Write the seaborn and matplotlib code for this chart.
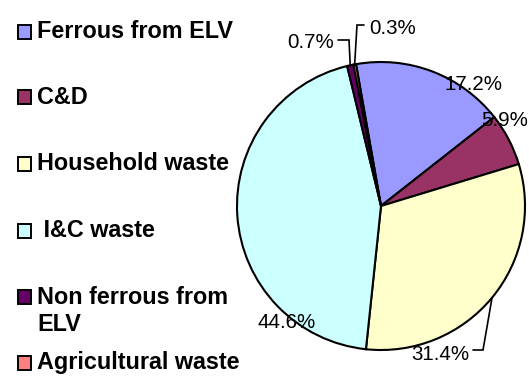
import numpy as np
import matplotlib
matplotlib.use("Agg")
import matplotlib.pyplot as plt
from matplotlib.patches import Rectangle
import seaborn as sns

# Waste stream shares (%)
categories = ["Ferrous from ELV", "C&D", "Household waste", " I&C waste",
              "Non ferrous from\nELV", "Agricultural waste"]
shares = [17.2, 5.9, 31.4, 44.6, 0.7, 0.3]
colors = ["#9999FF", "#993366", "#FFFFCC", "#CCFFFF", "#660066", "#FF8080"]

sns.set_theme(style="white")
plt.rcParams["font.family"] = ["Liberation Sans", "DejaVu Sans"]

W, H = 529, 377
fig = plt.figure(figsize=(W / 100, H / 100), dpi=100)
ax = fig.add_axes([0, 0, 1, 1])

# pie geometry in pixels: centre and radius
CX, CY, R = 381, 206, 144


def px(x, y):
    """pixel position (from top-left) -> data units of the unit pie"""
    return (x - CX) / R, (CY - y) / R


start = 100
wedges, _ = ax.pie(shares, colors=colors, startangle=start, counterclock=False,
                   radius=1.0, center=(0, 0),
                   wedgeprops=dict(edgecolor="black", linewidth=1.5))

ax.set_xlim(-CX / R, (W - CX) / R)
ax.set_ylim(-(H - CY) / R, CY / R)
ax.set_aspect("auto")
ax.axis("off")

# label placement (pixel layout) and optional leader elbows
label_pos = [(474, 84), (505, 121), (440, 354), (287, 322), (311, 42), (393, 28)]
leaders = {
    2: [(483, 350), (473, 350)],
    4: [(349, 40), (338, 40)],
    5: [(357, 25), (364, 25)],
}

total = sum(shares)
cum = 0.0
for i, v in enumerate(shares):
    mid = np.deg2rad(start - 360 * (cum + v / 2) / total)
    cum += v
    tx, ty = px(*label_pos[i])
    ax.text(tx, ty, f"{v:.1f}%", ha="center", va="center", fontsize=14.8,
            color="black", zorder=5)
    if i in leaders:
        pts = [(np.cos(mid), np.sin(mid))] + [px(*p) for p in leaders[i]]
        xs, ys = zip(*pts)
        ax.plot(xs, ys, color="black", lw=1.2, solid_joinstyle="miter",
                zorder=4, clip_on=False)

# legend drawn as a column of swatches
legend_y = [32, 97, 164, 231, 297, 363]
for lab, col, y in zip(categories, colors, legend_y):
    x0, y0 = px(17.5, y + 7)
    x1, y1 = px(31.5, y - 7)
    ax.add_patch(Rectangle((x0, y0), x1 - x0, y1 - y0, facecolor=col,
                           edgecolor="black", lw=1.4, clip_on=False, zorder=5))
    if "\n" in lab:
        tx, ty = px(37, y - 11)
        va = "top"
    else:
        tx, ty = px(37, y)
        va = "center"
    ax.text(tx, ty, lab, ha="left", va=va, fontsize=16.8, fontweight="bold",
            color="black", linespacing=1.2)

fig.savefig("out.png", dpi=100)
